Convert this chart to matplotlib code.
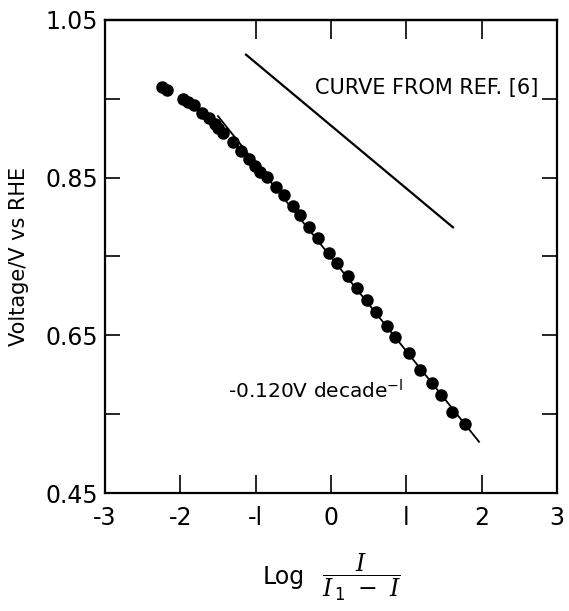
import numpy as np
import matplotlib as mpl
mpl.use('Agg')
import matplotlib.pyplot as plt

plt.rcParams['font.family'] = 'DejaVu Sans'
plt.rcParams['axes.unicode_minus'] = False
plt.rcParams['mathtext.fontset'] = 'dejavuserif'

# measured points (log I/(I1-I), voltage)
logRatio = [-2.243, -2.177, -1.965, -1.898, -1.819, -1.712, -1.620, -1.540, -1.500,
            -1.434, -1.301, -1.195, -1.089, -1.009, -0.943, -0.850, -0.730, -0.624,
            -0.504, -0.412, -0.292, -0.173, -0.027, 0.080, 0.226, 0.345, 0.478,
            0.597, 0.743, 0.849, 1.035, 1.181, 1.341, 1.460, 1.606, 1.779]
voltage = [0.965, 0.961, 0.950, 0.946, 0.942, 0.932, 0.926, 0.918, 0.913,
           0.907, 0.895, 0.884, 0.874, 0.865, 0.857, 0.851, 0.838, 0.828,
           0.814, 0.803, 0.787, 0.773, 0.754, 0.742, 0.725, 0.710, 0.695,
           0.680, 0.662, 0.648, 0.628, 0.606, 0.590, 0.574, 0.553, 0.538]

# tafel fit line and the curve from ref. [6]
fitX = [-1.50, 1.965]
fitY = [0.928, 0.515]
refX = [-1.128, 1.619]
refY = [1.006, 0.787]

xTicks = [-3, -2, -1, 0, 1, 2, 3]
xTickLabels = ['-3', '-2', '-l', '0', 'l', '2', '3']
topTicks = [-1, 0, 1, 2]
yTicks = [0.45, 0.55, 0.65, 0.75, 0.85, 0.95, 1.05]
yTickLabels = ['0.45', '', '0.65', '', '0.85', '', '1.05']

fig = plt.figure(figsize=(5.69, 6.11), dpi=100)
ax = fig.add_axes([0.1845, 0.1931, 0.7944, 0.7742])

ax.plot(fitX, fitY, color='black', lw=1.3)
ax.plot(refX, refY, color='black', lw=1.6)
ax.plot(logRatio, voltage, 'o', color='black', ms=8)

ax.set_xlim(-3, 3)
ax.set_ylim(0.45, 1.05)
ax.set_xticks(xTicks)
ax.set_xticklabels(xTickLabels)
ax.set_yticks(yTicks)
ax.set_yticklabels(yTickLabels)

for s in ax.spines.values():
    s.set_linewidth(1.6)
ax.tick_params(axis='both', direction='in', right=True,
               width=1.2, labelsize=17)
ax.tick_params(axis='x', length=13, pad=9)
ax.tick_params(axis='y', length=11, pad=5)

# top ticks only where the original has them
top = ax.secondary_xaxis('top')
top.set_xticks(topTicks)
top.tick_params(direction='in', length=14, width=1.2, labeltop=False)
top.spines['top'].set_linewidth(1.6)

ax.text(-0.212, 0.964, 'CURVE FROM REF. [6]', fontsize=15, va='center', ha='left')
ax.text(-1.367, 0.579, '-0.120V decade$^{\\mathsf{-l}}$', fontsize=14.5, va='center', ha='left')

ax.set_ylabel('Voltage/V vs RHE', fontsize=15, labelpad=12)
fig.text(263 / 569, 1 - 577 / 611, 'Log', fontsize=17, ha='left', va='center')
fig.text(361 / 569, 1 - 577 / 611, '$\\dfrac{I}{I_{\\,\\mathsf{1}}\\ -\\ I}$',
         fontsize=17, ha='center', va='center')

fig.savefig('out.png', dpi=100)
